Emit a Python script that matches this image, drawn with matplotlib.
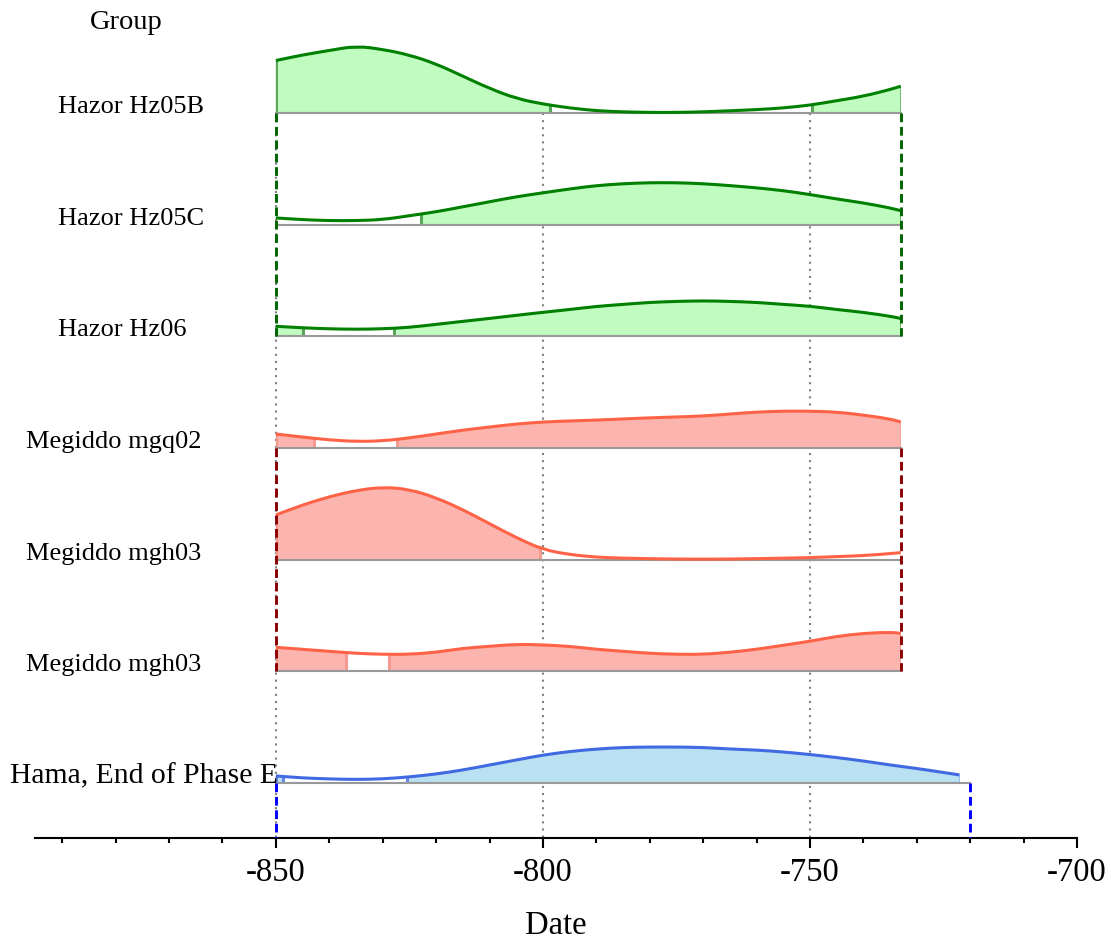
import numpy as np
import matplotlib
matplotlib.use("Agg")
import matplotlib.pyplot as plt
from matplotlib.patches import Rectangle, PathPatch
from matplotlib.path import Path

plt.rcParams['font.family'] = ['Liberation Serif', 'DejaVu Serif']
plt.rcParams['axes.unicode_minus'] = False

# row labels, top to bottom
labels = ["Hazor Hz05B", "Hazor Hz05C", "Hazor Hz06",
          "Megiddo mgq02", "Megiddo mgh03", "Megiddo mgh03",
          "Hama, End of Phase E"]
groups = ["Hazor", "Hazor", "Hazor", "Megiddo", "Megiddo", "Megiddo", "Hama"]

# sample dates of the density curves
dates_a = list(range(-850, -730, 5)) + [-733]
dates_hama = list(range(-850, -720, 5)) + [-722]

# density heights (row units x 100)
dens = [
    [47, 52, 56, 60, 57, 52, 44, 33, 22, 13, 8, 4.5, 2, 1, 0.5, 0.5, 1, 2, 3, 4.5, 7, 11, 15, 21, 24],
    [6, 4.5, 3.6, 3.6, 4.5, 8, 11.5, 16, 20.5, 25, 28.5, 32, 35, 36.7, 37.6, 37.6, 36.7, 35, 33, 30.5, 27, 23, 19.5, 15, 12.5],
    [9, 7.6, 6.7, 6.3, 6.7, 8, 10.7, 13.4, 16, 18.8, 21.5, 24, 26.8, 28.6, 30.4, 31.3, 31.8, 31.3, 30.4, 28.6, 27, 24, 21.5, 18, 16],
    [12.5, 9.8, 7.2, 5.8, 6.3, 9, 12.5, 16, 18.8, 21.5, 23.3, 24.2, 25, 26, 27, 27.8, 28.6, 30.4, 32.2, 33, 33, 32.2, 29.5, 26, 23.3],
    [40, 49, 56.4, 62, 65, 63, 55.5, 44.8, 32.2, 19.7, 9, 4.5, 2.2, 1.3, 0.9, 0.5, 0.5, 0.5, 0.9, 1.3, 1.8, 2.7, 3.6, 5.4, 6.3],
    [21.5, 19.7, 17.9, 16.1, 15.2, 15.2, 17, 20.6, 22.4, 24.2, 23.7, 22.4, 19.7, 17.9, 16.1, 15.2, 15.2, 17, 19.7, 23.3, 26.9, 31.3, 34, 35, 34],
    [6.3, 4.5, 3.6, 3.1, 3.6, 5.4, 8, 11.6, 16.1, 20.6, 25, 28.2, 30.4, 31.8, 32.2, 32.2, 31.8, 30.4, 29.5, 27.8, 25.5, 22.8, 19.7, 16.1, 13, 9.4, 7.2],
]

# highest posterior density ranges per row
hpd = [
    [(-850, -798.7), (-749.6, -733)],
    [(-822.8, -733)],
    [(-850, -845), (-827.9, -733)],
    [(-850, -842.9), (-827.3, -733)],
    [(-850, -800.6)],
    [(-850, -836.9), (-828.8, -733)],
    [(-850, -848.7), (-825.5, -722)],
]
row_end = [-733, -733, -733, -733, -733, -733, -720]

label_x = [-890.8, -890.8, -890.8, -896.8, -896.8, -896.8, -899.8]
label_size = [19, 19, 19, 19, 19, 19, 21.3]
label_dy = [0.055, 0.055, 0.055, 0.055, 0.055, 0.055, 0.06]

styles = {
    "Hazor": dict(fill="#c0fbc0", edge="#5aa55a", line="#008000", dash="#006400"),
    "Megiddo": dict(fill="#fbb4ae", edge="#f59a90", line="#ff6347", dash="#8b0000"),
    "Hama": dict(fill="#b9e1f1", edge="#6688e8", line="#4169e1", dash="#0000ff"),
}


def curve_path(xs, ys, base=None):
    # quadratic bezier through the midpoints of the samples
    pts = np.column_stack([xs, ys])
    verts, codes = [], []
    if base is not None:
        verts.append((xs[0], base))
        codes.append(Path.MOVETO)
        verts.append(tuple(pts[0]))
        codes.append(Path.LINETO)
    else:
        verts.append(tuple(pts[0]))
        codes.append(Path.MOVETO)
    verts.append(tuple((pts[0] + pts[1]) / 2))
    codes.append(Path.LINETO)
    for k in range(1, len(pts) - 1):
        verts += [tuple(pts[k]), tuple((pts[k] + pts[k + 1]) / 2)]
        codes += [Path.CURVE3, Path.CURVE3]
    verts.append(tuple(pts[-1]))
    codes.append(Path.LINETO)
    if base is not None:
        verts += [(xs[-1], base), (xs[0], base)]
        codes += [Path.LINETO, Path.CLOSEPOLY]
    return Path(verts, codes)


fig = plt.figure(figsize=(11.11, 9.41), dpi=100)
ax = fig.add_axes([0.0315, 0.1095, 0.9379, 0.8905])
ax.set_xlim(-895.1, -700)
ax.set_ylim(-0.4925, 7.012)

n = len(labels)
for i in range(n):
    base = n - 1 - i
    st = styles[groups[i]]
    xs = np.array(dates_hama if groups[i] == "Hama" else dates_a, dtype=float)
    ys = base + np.array(dens[i]) / 100.0

    area = PathPatch(curve_path(xs, ys, base), facecolor="none", edgecolor="none")
    ax.add_patch(area)
    for a, b in hpd[i]:
        r = Rectangle((a, base), b - a, 1.0, facecolor=st["fill"],
                      edgecolor=st["edge"], lw=2.2, zorder=2)
        ax.add_patch(r)
        r.set_clip_path(area)
    ax.plot([-850, row_end[i]], [base, base], color="#999999", lw=1.5, zorder=3)
    ax.add_patch(PathPatch(curve_path(xs, ys), facecolor="none",
                           edgecolor=st["line"], lw=2.2, zorder=4))
    ax.text(label_x[i], base + label_dy[i], labels[i], fontsize=label_size[i],
            ha="left", va="center", clip_on=False, zorder=6)

# dotted reference dates
for d in [-850, -800, -750]:
    ax.plot([d, d], [6, -0.4925], color="#808080", lw=1.5,
            linestyle=(0, (1, 2.4)), zorder=1)

# dashed group bounds
bounds = [("Hazor", 6, 4, -850, -733), ("Megiddo", 3, 1, -850, -733),
          ("Hama", 0, -0.4925, -850, -720)]
for g, y0, y1, lo, hi in bounds:
    for d in (lo, hi):
        ax.plot([d, d], [y0, y1], color=styles[g]["dash"], lw=2.1,
                linestyle=(0, (3, 1.6)), zorder=5)

ax.text(-884.8, 6.81, "Group", fontsize=20.5, ha="left", va="center")

for s in ["top", "right", "left"]:
    ax.spines[s].set_visible(False)
ax.spines["bottom"].set_linewidth(1.5)
ax.set_yticks([])
ax.set_xticks([-850, -800, -750, -700])
ax.set_xticks(np.arange(-890, -700, 10), minor=True)
ax.tick_params(axis="x", which="major", length=7, width=1.5, labelsize=23.5, pad=7)
ax.tick_params(axis="x", which="minor", length=3.5, width=1.5)
ax.set_xlabel("Date", fontsize=23.5, labelpad=16)

fig.savefig("out.png", dpi=100)
